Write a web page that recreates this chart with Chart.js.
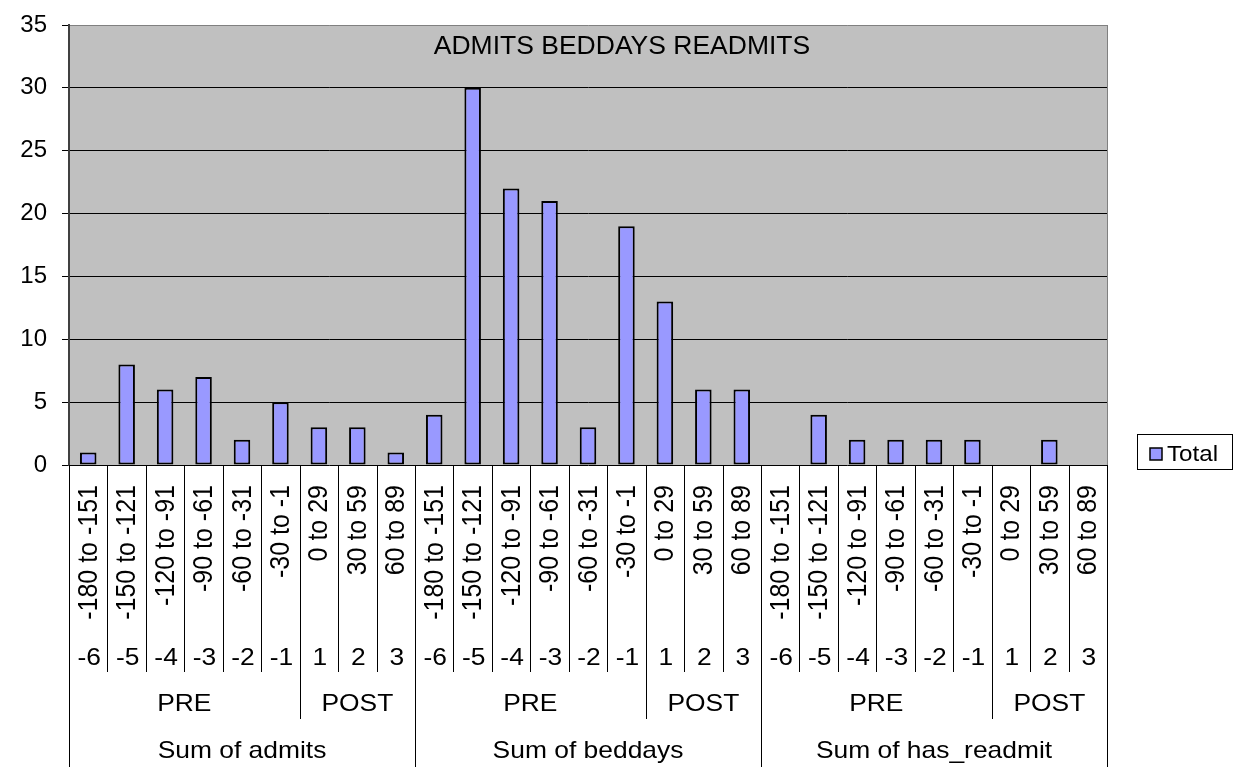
<!DOCTYPE html>
<html>
<head>
<meta charset="utf-8">
<script src="https://cdn.jsdelivr.net/npm/chart.js@4"></script>
<style>
html,body{margin:0;padding:0;background:#fff;}
#wrap{width:1237px;height:777px;position:relative;}
</style>
</head>
<body>
<div id="wrap"><canvas id="c"></canvas></div>
<script>
// ---- data ----
const chartTitle = 'ADMITS BEDDAYS READMITS';
const groupLabels = ['Sum of admits', 'Sum of beddays', 'Sum of has_readmit'];
const rangeLabels = ['-180 to -151', '-150 to -121', '-120 to -91', '-90 to -61', '-60 to -31', '-30 to -1', '0 to 29', '30 to 59', '60 to 89'];
const offsetLabels = ['-6', '-5', '-4', '-3', '-2', '-1', '1', '2', '3'];
const phaseLabels = ['PRE', 'PRE', 'PRE', 'PRE', 'PRE', 'PRE', 'POST', 'POST', 'POST'];
const admits = [1, 8, 6, 7, 2, 5, 3, 3, 1];
const beddays = [4, 30, 22, 21, 3, 19, 13, 6, 6];
const hasReadmit = [null, 4, 2, 2, 2, 2, null, 2, null];
const yTickValues = [0, 5, 10, 15, 20, 25, 30, 35];
const seriesName = 'Total';

// ---- build category table ----
const groupSeries = [admits, beddays, hasReadmit];
const cats = [];
const values = [];
groupLabels.forEach((g, gi) => {
  rangeLabels.forEach((r, ri) => {
    cats.push({group: g, phase: phaseLabels[ri], offset: offsetLabels[ri], range: r});
    values.push(groupSeries[gi][ri]);
  });
});
const labels = cats.map(c => c.group + ' | ' + c.phase + ' | ' + c.offset + ' | ' + c.range);

const FONT = '"Liberation Sans", Arial, sans-serif';
const BAR_COLOR = '#9999FF';

function stretchText(ctx, text, x, y, align, sx) {
  ctx.save();
  ctx.translate(x, y);
  ctx.scale(sx, 1);
  ctx.textAlign = align;
  ctx.fillText(text, 0, 0);
  ctx.restore();
}

const decor = {
  id: 'decor',
  beforeDraw(chart) {
    const {ctx, chartArea: a} = chart;
    ctx.save();
    ctx.fillStyle = '#fff';
    ctx.fillRect(0, 0, chart.width, chart.height);
    ctx.fillStyle = '#C0C0C0';
    ctx.fillRect(a.left, a.top, a.right - a.left, a.bottom - a.top);
    ctx.restore();
  },
  afterDraw(chart) {
    const {ctx, chartArea: a} = chart;
    const xs = chart.scales.x;
    const n = cats.length;
    const w = (a.right - a.left) / n;
    ctx.save();
    // right border of plot
    ctx.strokeStyle = '#808080';
    ctx.lineWidth = 1;
    ctx.beginPath();
    ctx.moveTo(Math.round(a.right) + 0.5, a.top);
    ctx.lineTo(Math.round(a.right) + 0.5, a.bottom);
    ctx.stroke();

    // separators of category axis
    ctx.strokeStyle = '#000';
    ctx.lineWidth = 1;
    for (let i = 0; i <= n; i++) {
      const x = Math.round(a.left + i * w) + 0.5;
      let yEnd = 672;
      if (i === 0 || i === n || cats[i - 1].group !== cats[i].group) yEnd = 767;
      else if (cats[i - 1].phase !== cats[i].phase) yEnd = 719;
      ctx.beginPath();
      ctx.moveTo(x, a.bottom);
      ctx.lineTo(x, yEnd);
      ctx.stroke();
    }

    ctx.fillStyle = '#000';
    // rotated range labels
    ctx.font = '25px ' + FONT;
    ctx.textBaseline = 'middle';
    cats.forEach((c, i) => {
      const cx = xs.getPixelForValue(i);
      ctx.save();
      ctx.translate(cx + 1, 485);
      ctx.rotate(-Math.PI / 2);
      ctx.scale(1, 1.1);
      ctx.textAlign = 'right';
      ctx.fillText(c.range, 0, 0);
      ctx.restore();
    });
    // offset labels
    ctx.font = '24px ' + FONT;
    cats.forEach((c, i) => {
      const cx = xs.getPixelForValue(i);
      stretchText(ctx, c.offset, cx + 1, 658, 'center', 1.1);
    });
    // phase labels
    let start = 0;
    for (let i = 1; i <= n; i++) {
      if (i === n || cats[i].phase !== cats[start].phase || cats[i].group !== cats[start].group) {
        const cx = a.left + (start + i) / 2 * w;
        stretchText(ctx, cats[start].phase, cx, 704, 'center', 1.1);
        start = i;
      }
    }
    // group labels
    start = 0;
    for (let i = 1; i <= n; i++) {
      if (i === n || cats[i].group !== cats[start].group) {
        const cx = a.left + (start + i) / 2 * w;
        stretchText(ctx, cats[start].group, cx, 751, 'center', 1.1);
        start = i;
      }
    }

    // title
    ctx.font = '25px ' + FONT;
    stretchText(ctx, chartTitle, 622, 47, 'center', 1.06);

    // legend
    ctx.fillStyle = '#fff';
    ctx.fillRect(1137, 434, 96, 35);
    ctx.strokeStyle = '#000';
    ctx.lineWidth = 1;
    ctx.strokeRect(1137.5, 434.5, 95, 35);
    ctx.fillStyle = BAR_COLOR;
    ctx.fillRect(1150, 448, 12, 12);
    ctx.lineWidth = 1.5;
    ctx.strokeRect(1150, 448, 12, 12);
    ctx.fillStyle = '#000';
    ctx.font = '22px ' + FONT;
    ctx.textBaseline = 'middle';
    stretchText(ctx, seriesName, 1167, 455, 'left', 1.1);
    ctx.restore();
  }
};

new Chart(document.getElementById('c'), {
  type: 'bar',
  data: {
    labels: labels,
    datasets: [{
      label: seriesName,
      data: values,
      backgroundColor: BAR_COLOR,
      borderColor: '#000',
      borderWidth: 2,
      borderSkipped: false,
      barPercentage: 0.43,
      categoryPercentage: 1.0
    }]
  },
  options: {
    responsive: true,
    maintainAspectRatio: false,
    animation: false,
    layout: {padding: {top: 25, right: 130, left: 0, bottom: 0}},
    plugins: {legend: {display: false}, title: {display: false}, tooltip: {enabled: false}},
    scales: {
      x: {
        type: 'category',
        ticks: {display: false},
        grid: {display: false},
        border: {display: false},
        afterFit(scale) { scale.height = 312; scale.paddingLeft = 0; scale.paddingRight = 0; }
      },
      y: {
        min: 0,
        max: 35,
        afterBuildTicks(scale) { scale.ticks = yTickValues.map(v => ({value: v})); },
        ticks: {
          color: '#000',
          font: {family: FONT, size: 24},
          padding: 15
        },
        grid: {
          color: (c) => (c.tick && c.tick.value === 35) ? '#808080' : '#000',
          lineWidth: 1,
          tickLength: 7,
          tickColor: '#000'
        },
        border: {display: true, color: '#404040', width: 2},
        afterFit(scale) { scale.width = 69; scale.paddingTop = 0; scale.paddingBottom = 0; }
      }
    }
  },
  plugins: [decor]
});
</script>
</body>
</html>
